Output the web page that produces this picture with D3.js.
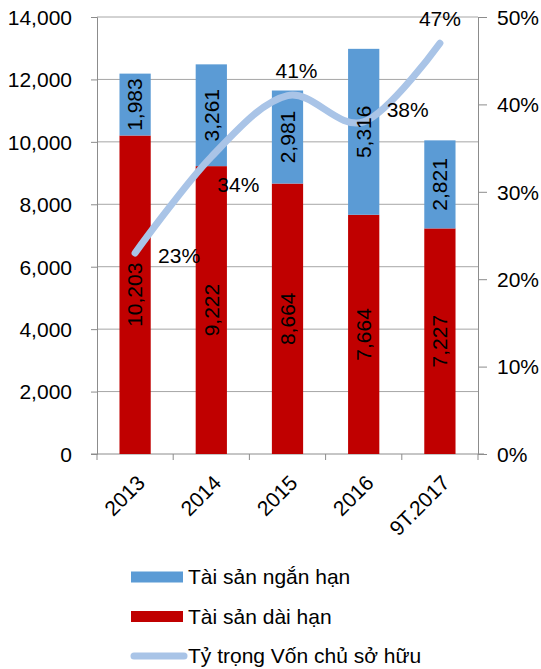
<!DOCTYPE html>
<html>
<head>
<meta charset="utf-8">
<script src="https://cdn.jsdelivr.net/npm/d3@7"></script>
<style>
  body { margin: 0; background: #fff; }
  svg text { font-family: "Liberation Sans", Arial, sans-serif; fill: #000; }
</style>
</head>
<body>
<svg></svg>
<script>
// DATA
let years = ["2013", "2014", "2015", "2016", "9T.2017"]
let longTerm = [10203, 9222, 8664, 7664, 7227]   // Tài sản dài hạn
let shortTerm = [1983, 3261, 2981, 5316, 2821]   // Tài sản ngắn hạn
let equityRatio = [0.23, 0.34, 0.41, 0.38, 0.47] // Tỷ trọng Vốn chủ sở hữu
let leftTicks = [0, 2000, 4000, 6000, 8000, 10000, 12000, 14000]
let rightTicks = [0, 0.1, 0.2, 0.3, 0.4, 0.5]

// where each percent label sits relative to its point (manual, as in the source)
let pctLabelOffset = [[44, 3], [27, 28], [9, -25], [44, -12], [0, -25]]

let svgWidth = 541, svgHeight = 669
let plotLeft = 97, plotRight = 478, plotTop = 17, plotBottom = 454

let svg = d3.select('svg')
    .attr('width', svgWidth)
    .attr('height', svgHeight)

let x = d3.scaleBand()
    .domain(years)
    .range([plotLeft, plotRight])
    .paddingInner(0.59)
    .paddingOuter(0.295)

let y = d3.scaleLinear().domain([0, 14000]).range([plotBottom, plotTop])
let y2 = d3.scaleLinear().domain([0, 0.5]).range([plotBottom, plotTop])

let blue = '#5B9BD5', red = '#C00000', lineColor = '#A9C4E7', grey = '#8C8C8C'

// GRIDLINES
svg.append('g')
    .selectAll('line')
    .data(leftTicks.slice(1))
    .enter()
    .append('line')
    .attr('x1', plotLeft).attr('x2', plotRight)
    .attr('y1', d => y(d)).attr('y2', d => y(d))
    .attr('stroke', '#A6A6A6')
    .attr('stroke-width', 1)

// LEFT AXIS
let leftAxis = svg.append('g')
    .attr('transform', `translate(${plotLeft},0)`)
    .call(d3.axisLeft(y).tickValues(leftTicks).tickFormat(d3.format(',')).tickSize(6).tickPadding(19))
leftAxis.selectAll('text').style('font-size', '21px').attr('dy', '0.35em')

// RIGHT AXIS
let rightAxis = svg.append('g')
    .attr('transform', `translate(${plotRight},0)`)
    .call(d3.axisRight(y2).tickValues(rightTicks).tickFormat(d3.format('.0%')).tickSize(9).tickPadding(10))
rightAxis.selectAll('text').style('font-size', '21px').attr('dy', '0.35em')

// BOTTOM AXIS (ticks between categories)
let bottomAxis = svg.append('g')
    .attr('transform', `translate(0,${plotBottom})`)
let edges = years.map(d => x(d) - x.step() * x.paddingInner() / 2).concat([plotRight])
bottomAxis.append('line')
    .attr('x1', plotLeft - 6).attr('x2', plotRight + 6)
    .attr('y1', 0).attr('y2', 0)
    .attr('stroke', grey)
bottomAxis.selectAll('.tk')
    .data(edges)
    .enter()
    .append('line')
    .attr('x1', d => d).attr('x2', d => d)
    .attr('y1', 0).attr('y2', 6)
    .attr('stroke', grey)
bottomAxis.selectAll('text')
    .data(years)
    .enter()
    .append('text')
    .attr('transform', d => `translate(${x(d) + x.bandwidth() / 2 + 6},${25}) rotate(-45)`)
    .attr('text-anchor', 'end')
    .attr('dy', '0.35em')
    .style('font-size', '21px')
    .text(d => d)

svg.selectAll('.domain').attr('stroke', grey)
svg.selectAll('.tick line').attr('stroke', grey)

// STACKED BARS
let rows = years.map((d, i) => ({year: d, longTerm: longTerm[i], shortTerm: shortTerm[i]}))
let stack = d3.stack().keys(['longTerm', 'shortTerm'])(rows)
let colors = {longTerm: red, shortTerm: blue}

let layer = svg.append('g')
    .selectAll('g')
    .data(stack)
    .enter()
    .append('g')
    .attr('fill', d => colors[d.key])

layer.selectAll('rect')
    .data(d => d)
    .enter()
    .append('rect')
    .attr('x', d => x(d.data.year))
    .attr('width', x.bandwidth())
    .attr('y', d => y(d[1]))
    .attr('height', d => y(d[0]) - y(d[1]))

// EQUITY RATIO LINE
let line = d3.line()
    .x((d, i) => x(years[i]) + x.bandwidth() / 2)
    .y(d => y2(d))
    .curve(d3.curveCatmullRom.alpha(0))

svg.append('path')
    .datum(equityRatio)
    .attr('d', line)
    .attr('fill', 'none')
    .attr('stroke', lineColor)
    .attr('stroke-width', 7)
    .attr('stroke-linecap', 'round')

// BAR VALUE LABELS (rotated)
svg.append('g')
    .selectAll('g')
    .data(stack)
    .enter()
    .append('g')
    .selectAll('text')
    .data(d => d)
    .enter()
    .append('text')
    .attr('transform', d => `translate(${x(d.data.year) + x.bandwidth() / 2},${(y(d[0]) + y(d[1])) / 2}) rotate(-90)`)
    .attr('text-anchor', 'middle')
    .attr('dy', '0.35em')
    .style('font-size', '21px')
    .text(d => d3.format(',')(d[1] - d[0]))

// PERCENT LABELS
svg.append('g')
    .selectAll('text')
    .data(equityRatio)
    .enter()
    .append('text')
    .attr('x', (d, i) => x(years[i]) + x.bandwidth() / 2 + pctLabelOffset[i][0])
    .attr('y', (d, i) => y2(d) + pctLabelOffset[i][1])
    .attr('text-anchor', 'middle')
    .attr('dy', '0.35em')
    .style('font-size', '21px')
    .text(d => d3.format('.0%')(d))

// LEGEND
let legendItems = [
    {label: 'Tài sản ngắn hạn', type: 'rect', color: blue},
    {label: 'Tài sản dài hạn', type: 'rect', color: red},
    {label: 'Tỷ trọng Vốn chủ sở hữu', type: 'line', color: lineColor}
]
let legend = svg.append('g')
    .selectAll('g')
    .data(legendItems)
    .enter()
    .append('g')
    .attr('transform', (d, i) => `translate(131,${577 + i * 39.5})`)

legend.filter(d => d.type === 'rect')
    .append('rect')
    .attr('x', 0).attr('y', -5.5)
    .attr('width', 52).attr('height', 11)
    .attr('fill', d => d.color)
legend.filter(d => d.type === 'line')
    .append('line')
    .attr('x1', 3).attr('x2', 53)
    .attr('y1', 0).attr('y2', 0)
    .attr('stroke', d => d.color)
    .attr('stroke-width', 7)
    .attr('stroke-linecap', 'round')
legend.append('text')
    .attr('x', 57)
    .attr('dy', '0.35em')
    .style('font-size', '21px')
    .text(d => d.label)
</script>
</body>
</html>
